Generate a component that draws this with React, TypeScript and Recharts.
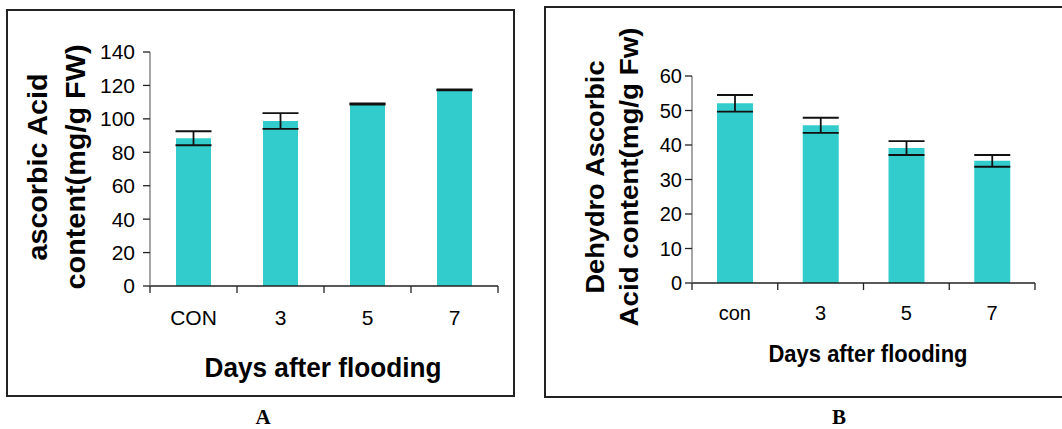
import React from "react";
import { BarChart, Bar, XAxis, YAxis, ErrorBar } from "recharts";

// values
const daysA = ["CON", "3", "5", "7"];
const ascorbic = [88.4, 98.7, 108.9, 117.3];
const ascorbicErr = [4.2, 4.7, 0.3, 0.3];
const ticksA = [0, 20, 40, 60, 80, 100, 120, 140];

const daysB = ["con", "3", "5", "7"];
const dehydro = [52.1, 45.7, 39.1, 35.4];
const dehydroErr = [2.4, 2.2, 2.0, 1.7];
const ticksB = [0, 10, 20, 30, 40, 50, 60];

const BAR = "#33CCCC";
const FONT = "'Liberation Sans', Arial, sans-serif";

const toRows = (days: string[], vals: number[], errs: number[]) =>
  days.map((d, i) => ({ day: d, value: vals[i], err: errs[i] }));

// category tick: label at band centre, tick marks at band edges
const makeTick = (half: number, fontSize: number, labelDy: number) => (props: any) => {
  const { x, y, payload, index, visibleTicksCount } = props;
  const h = payload && payload.offset > 0 ? payload.offset : half;
  const last = index === visibleTicksCount - 1;
  return (
    <g>
      <line x1={x - h} x2={x - h} y1={y} y2={y + 7} stroke="#222" strokeWidth={1.3} />
      {last && <line x1={x + h} x2={x + h} y1={y} y2={y + 7} stroke="#222" strokeWidth={1.3} />}
      <text x={x} y={y + labelDy} textAnchor="middle" dominantBaseline="central" fontSize={fontSize} fontFamily={FONT} fill="#000">
        {payload.value}
      </text>
    </g>
  );
};

interface TitleLine {
  text: string;
  x: number;
  len: number;
}

const yTitle = (lines: TitleLine[], cy: number, fontSize: number) => () => (
  <g>
    {lines.map((l) => (
      <text
        key={l.text}
        x={l.x}
        y={cy}
        transform={`rotate(-90 ${l.x} ${cy})`}
        textAnchor="middle"
        dominantBaseline="central"
        fontSize={fontSize}
        fontWeight="bold"
        fontFamily={FONT}
        fill="#000"
        textLength={l.len}
        lengthAdjust="spacingAndGlyphs"
      >
        {l.text}
      </text>
    ))}
  </g>
);

const xTitle = (text: string, cx: number, cy: number, fontSize: number, len: number) => () => (
  <text
    x={cx}
    y={cy}
    textAnchor="middle"
    dominantBaseline="central"
    fontSize={fontSize}
    fontWeight="bold"
    fontFamily={FONT}
    fill="#000"
    textLength={len}
    lengthAdjust="spacingAndGlyphs"
  >
    {text}
  </text>
);

interface PanelProps {
  rows: any[];
  ticks: number[];
  max: number;
  width: number;
  height: number;
  margin: { top: number; right: number; bottom: number; left: number };
  barSize: number;
  tickFont: number;
  tickGap: number;
  labelDy: number;
  yLabel: () => React.ReactElement;
  xLabel: () => React.ReactElement;
}

const Panel: React.FC<PanelProps> = ({ rows, ticks, max, width, height, margin, barSize, tickFont, tickGap, labelDy, yLabel, xLabel }) => {
  const plotW = width - margin.left - margin.right - 60;
  const half = plotW / rows.length / 2;
  return (
    <BarChart width={width} height={height} data={rows} margin={margin}>
      <XAxis
        dataKey="day"
        height={30}
        axisLine={{ stroke: "#222", strokeWidth: 1.3 }}
        tickLine={false}
        tickSize={0}
        tickMargin={0}
        interval={0}
        tick={makeTick(half, tickFont, labelDy)}
        label={{ content: xLabel }}
      />
      <YAxis
        width={60}
        domain={[0, max]}
        ticks={ticks}
        interval={0}
        axisLine={{ stroke: "#777", strokeWidth: 1.3 }}
        tickLine={{ stroke: "#222", strokeWidth: 1.3 }}
        tickSize={7}
        tickMargin={tickGap}
        tick={{ fill: "#000", fontSize: tickFont, fontFamily: FONT }}
        label={{ content: yLabel }}
      />
      <Bar dataKey="value" fill={BAR} barSize={barSize} isAnimationActive={false}>
        <ErrorBar dataKey="err" width={18} stroke="#111" strokeWidth={1.8} />
      </Bar>
    </BarChart>
  );
};

export default function App() {
  return (
    <div style={{ position: "absolute", left: 0, top: 0, width: 1062, height: 429, background: "#fff", overflow: "hidden" }}>
      {/* panel A */}
      <div style={{ position: "absolute", left: 6, top: 9, width: 509, height: 388, border: "2px solid #222", boxSizing: "border-box" }} />
      <div style={{ position: "absolute", left: 7, top: 10 }}>
        <Panel
          rows={toRows(daysA, ascorbic, ascorbicErr)}
          ticks={ticksA}
          max={140}
          width={507}
          height={386}
          margin={{ top: 42, right: 16, bottom: 80, left: 83 }}
          barSize={35}
          tickFont={21}
          tickGap={8}
          labelDy={31}
          yLabel={yTitle(
            [
              { text: "ascorbic Acid", x: 31, len: 187 },
              { text: "content(mg/g FW)", x: 69, len: 245 },
            ],
            157,
            27
          )}
          xLabel={xTitle("Days after flooding", 316, 358, 27, 237)}
        />
      </div>
      <div style={{ position: "absolute", left: 263, top: 417, transform: "translate(-50%, -50%)", fontFamily: "'Liberation Serif', 'Times New Roman', serif", fontWeight: "bold", fontSize: 21 }}>
        A
      </div>

      {/* panel B */}
      <div style={{ position: "absolute", left: 544, top: 6, width: 520, height: 392, border: "2px solid #222", borderRight: "none", boxSizing: "border-box" }} />
      <div style={{ position: "absolute", left: 545, top: 7 }}>
        <Panel
          rows={toRows(daysB, dehydro, dehydroErr)}
          ticks={ticksB}
          max={60}
          width={517}
          height={390}
          margin={{ top: 69, right: 27, bottom: 84, left: 87 }}
          barSize={36}
          tickFont={20}
          tickGap={3}
          labelDy={30}
          yLabel={yTitle(
            [
              { text: "Dehydro Ascorbic", x: 50, len: 233 },
              { text: "Acid content(mg/g Fw)", x: 84, len: 299 },
            ],
            170,
            25
          )}
          xLabel={xTitle("Days after flooding", 323, 346, 24, 199)}
        />
      </div>
      <div style={{ position: "absolute", left: 839, top: 417, transform: "translate(-50%, -50%)", fontFamily: "'Liberation Serif', 'Times New Roman', serif", fontWeight: "bold", fontSize: 21 }}>
        B
      </div>
    </div>
  );
}
